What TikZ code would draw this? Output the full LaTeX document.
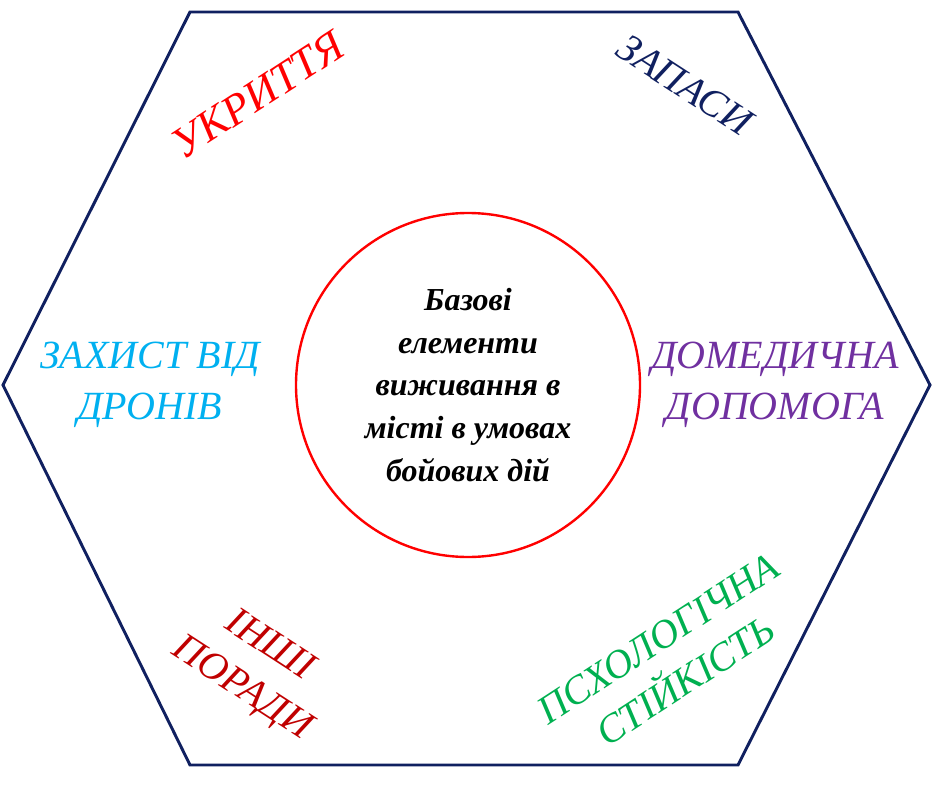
\documentclass[tikz,border=0pt]{standalone}
\usepackage{fontspec}
\setmainfont{Liberation Serif}
\definecolor{hexblue}{RGB}{16,32,96}
\definecolor{skyc}{RGB}{0,176,240}
\definecolor{purp}{RGB}{112,48,160}
\definecolor{darkred}{RGB}{192,0,0}
\definecolor{grn}{RGB}{0,176,80}
\tikzset{
  lbl/.style={font=\itshape\fontsize{30}{38}\selectfont, align=center},
}
\begin{document}
\begin{tikzpicture}[x=0.75pt,y=-0.75pt]
        \useasboundingbox (0,0) rectangle (940,792);
        \draw[hexblue, line width=2.2pt] (190,12) -- (738,12) -- (930,385) -- (738,765) -- (190,765) -- (3,385) -- cycle;

        \node[draw=red, line width=1.8pt, circle, minimum size=258pt] (core) at (468,385) {};
        \node[font=\bfseries\itshape\fontsize{24}{32}\selectfont, align=center] (title) at (core)
            {Базові\\елементи\\виживання в\\місті в умовах\\бойових дій};

        \node[lbl, red, rotate=33, scale=1.1] (shelter) at (258,95) {УКРИТТЯ};
        \node[lbl, hexblue, rotate=-33] (stock) at (685,85) {ЗАПАСИ};
        \node[lbl, skyc] (drones) at (150,385) {ЗАХИСТ ВІД\\ДРОНІВ};
        \node[lbl, purp] (aid) at (775,385) {ДОМЕДИЧНА\\ДОПОМОГА};
        \node[lbl, darkred, rotate=-33] (tips) at (255,668) {ІНШІ\\ПОРАДИ};
        \node[lbl, grn, rotate=33] (psy) at (672,660) {ПСХОЛОГІЧНА\\СТІЙКІСТЬ};
    \end{tikzpicture}
\end{document}
